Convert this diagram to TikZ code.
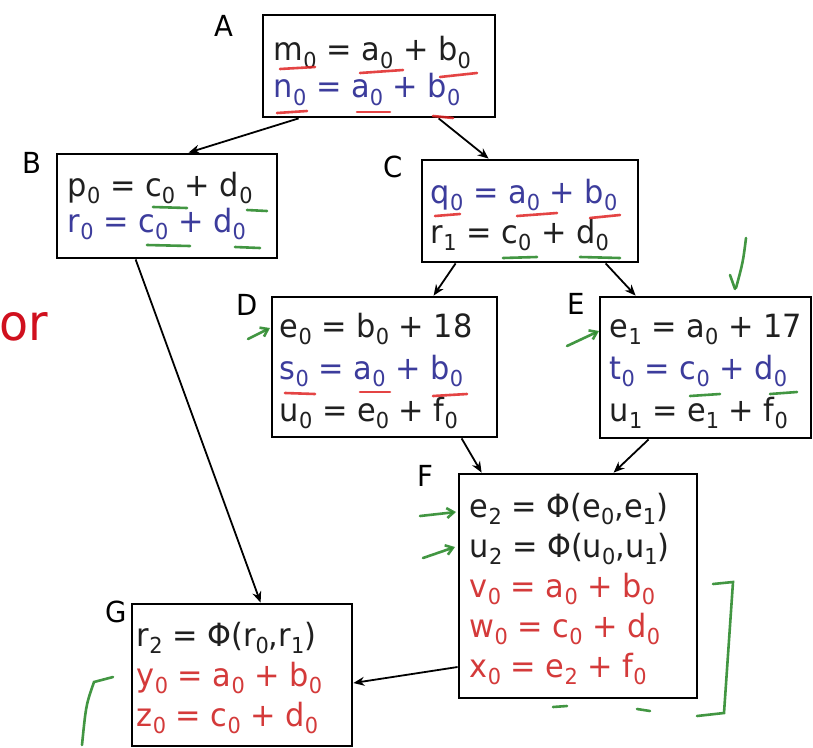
\documentclass[tikz,border=0pt]{standalone}
\usepackage{fontspec}
\setmainfont[FakeStretch=0.95]{DejaVu Sans}
\usetikzlibrary{arrows.meta}
\definecolor{txtblack}{HTML}{202020}
\definecolor{txtblue}{HTML}{3C3C9C}
\definecolor{txtred}{HTML}{D43A3A}
\definecolor{mkred}{HTML}{E02424}
\definecolor{mkgreen}{HTML}{2E8B2E}
\definecolor{orred}{HTML}{D0101E}
\newcommand\ssub[1]{\raisebox{-0.22em}{\fontsize{22}{22}\selectfont #1}}
\newcommand\bl[1]{\textcolor{txtblue}{#1}}
\newcommand\rd[1]{\textcolor{txtred}{#1}}
\begin{document}
\begin{tikzpicture}[x=1pt,y=-1pt,
  blk/.style={draw=black, line width=2.8pt, fill=white, inner sep=0pt},
  txt/.style={anchor=west, inner sep=0pt, align=left, text=txtblack,
    font=\fontsize{32}{40}\selectfont},
  lbl/.style={font=\fontsize{29}{29}\selectfont, text=black, inner sep=0pt},
  conn/.style={draw=black, line width=1.8pt, -{Stealth[length=11pt,width=9pt]}},
  redmk/.style={draw=mkred, line width=2.6pt, line cap=round, opacity=0.85},
  grnmk/.style={draw=mkgreen, line width=2.6pt, line cap=round, opacity=0.9},
  grnarr/.style={grnmk, -{Straight Barb[length=7pt,width=10pt]}}]
\useasboundingbox (0,0) rectangle (813,747);
\fill[white] (0,0) rectangle (813,747);

% red partial word at the left edge
\node[font=\fontsize{50}{50}\selectfont, text=orred, anchor=base west, inner sep=0pt] (orw) at (-1,340) {or};

% blocks
\node[blk, minimum width=232pt, minimum height=102pt] (A) at (379,66) {};
\node[blk, minimum width=220pt, minimum height=104pt] (B) at (167,206) {};
\node[blk, minimum width=216pt, minimum height=102pt] (C) at (530,211) {};
\node[blk, minimum width=225pt, minimum height=140pt] (D) at (384.5,367) {};
\node[blk, minimum width=211pt, minimum height=141pt] (E) at (705.5,367.5) {};
\node[blk, minimum width=238pt, minimum height=224pt] (F) at (578,586) {};
\node[blk, minimum width=220pt, minimum height=142pt] (G) at (242,675) {};

% block texts
\node[txt, font=\fontsize{32}{37}\selectfont] (At) at ([xshift=12pt,yshift=-5pt]A.west)
  {m\ssub0 = a\ssub0 + b\ssub0\\ \bl{n\ssub0 = a\ssub0 + b\ssub0}};
\node[txt, font=\fontsize{32}{36}\selectfont] (Bt) at ([xshift=12pt,yshift=0pt]B.west)
  {p\ssub0 = c\ssub0 + d\ssub0\\ \bl{r\ssub0 = c\ssub0 + d\ssub0}};
\node[txt] (Ct) at ([xshift=10pt,yshift=-4pt]C.west)
  {\bl{q\ssub0 = a\ssub0 + b\ssub0}\\ r\ssub1 = c\ssub0 + d\ssub0};
\node[txt, font=\fontsize{32}{42}\selectfont] (Dt) at ([xshift=9pt,yshift=-4pt]D.west)
  {e\ssub0 = b\ssub0 + 18\\ \bl{s\ssub0 = a\ssub0 + b\ssub0}\\ u\ssub0 = e\ssub0 + f\ssub0};
\node[txt, font=\fontsize{32}{42}\selectfont] (Et) at ([xshift=11pt,yshift=-4pt]E.west)
  {e\ssub1 = a\ssub0 + 17\\ \bl{t\ssub0 = c\ssub0 + d\ssub0}\\ u\ssub1 = e\ssub1 + f\ssub0};
\node[txt] (Ft) at ([xshift=12pt,yshift=-3pt]F.west)
  {e\ssub2 = Φ(e\ssub0,e\ssub1)\\ u\ssub2 = Φ(u\ssub0,u\ssub1)\\ \rd{v\ssub0 = a\ssub0 + b\ssub0}\\ \rd{w\ssub0 = c\ssub0 + d\ssub0}\\ \rd{x\ssub0 = e\ssub2 + f\ssub0}};
\node[txt] (Gt) at ([xshift=6pt,yshift=-3pt]G.west)
  {r\ssub2 = Φ(r\ssub0,r\ssub1)\\ \rd{y\ssub0 = a\ssub0 + b\ssub0}\\ \rd{z\ssub0 = c\ssub0 + d\ssub0}};

% block labels
\node[lbl] (lA) at (224,26) {A};
\node[lbl] (lB) at (32,163) {B};
\node[lbl] (lC) at (393,167) {C};
\node[lbl] (lD) at (247,305) {D};
\node[lbl] (lE) at (576,304) {E};
\node[lbl] (lF) at (425,476) {F};
\node[lbl] (lG) at (116,612) {G};

% connectors
\draw[conn] ([xshift=37pt]A.south west) -- ([xshift=133pt]B.north west);
\draw[conn] ([xshift=177pt]A.south west) -- ([xshift=68pt]C.north west);
\draw[conn] ([xshift=80pt]B.south west) -- ([xshift=130pt]G.north west);
\draw[conn] ([xshift=35pt]C.south west) -- ([xshift=163pt]D.north west);
\draw[conn] ([xshift=185pt]C.south west) -- ([xshift=37pt]E.north west);
\draw[conn] ([xshift=191pt]D.south west) -- ([xshift=24pt]F.north west);
\draw[conn] ([xshift=50pt]E.south west) -- ([xshift=156pt]F.north west);
\draw[conn] ([yshift=-81pt]F.west) -- ([yshift=-8pt]G.east);

% red highlight marks
\draw[redmk] (280,69) -- (315,67);
\draw[redmk] (360,73) -- (403,70);
\draw[redmk] (440,77) -- (477,73);
\draw[redmk] (277,113) -- (307,111);
\draw[redmk] (357,112) -- (390,112);
\draw[redmk] (433,116) -- (453,118);
\draw[redmk] (435,216) -- (460,214);
\draw[redmk] (517,216) -- (557,213);
\draw[redmk] (590,218) -- (620,215);
\draw[redmk] (285,393) -- (315,394);
\draw[redmk] (360,392) -- (390,392);
\draw[redmk] (433,396) -- (467,394);

% green highlight marks
\draw[grnmk] (153,207) -- (187,208);
\draw[grnmk] (247,210) -- (267,211);
\draw[grnmk] (147,245) -- (190,246);
\draw[grnmk] (235,247) -- (260,248);
\draw[grnmk] (503,258) -- (537,257);
\draw[grnmk] (580,257) -- (620,258);
\draw[grnmk] (690,396) -- (720,394);
\draw[grnmk] (770,394) -- (797,392);
\draw[grnmk] (553,707) -- (567,706);
\draw[grnmk] (637,709) -- (650,711);

% green hand-drawn arrows and brackets
\draw[grnarr] (248,339) -- (270,328);
\draw[grnarr] (567,346) -- (599,331);
\draw[grnarr] (420,516) -- (456,512);
\draw[grnarr] (423,558) -- (455,547);
\draw[grnmk] (746,238) .. controls (743,262) .. (736,288);
\draw[grnmk] (735,289) -- (730,275);
\draw[grnmk] (713,584) -- (733,582) -- (724,713) -- (697,716);
\draw[grnmk] (113,677) -- (94,682) .. controls (86,705) .. (82,745);
\end{tikzpicture}
\end{document}
